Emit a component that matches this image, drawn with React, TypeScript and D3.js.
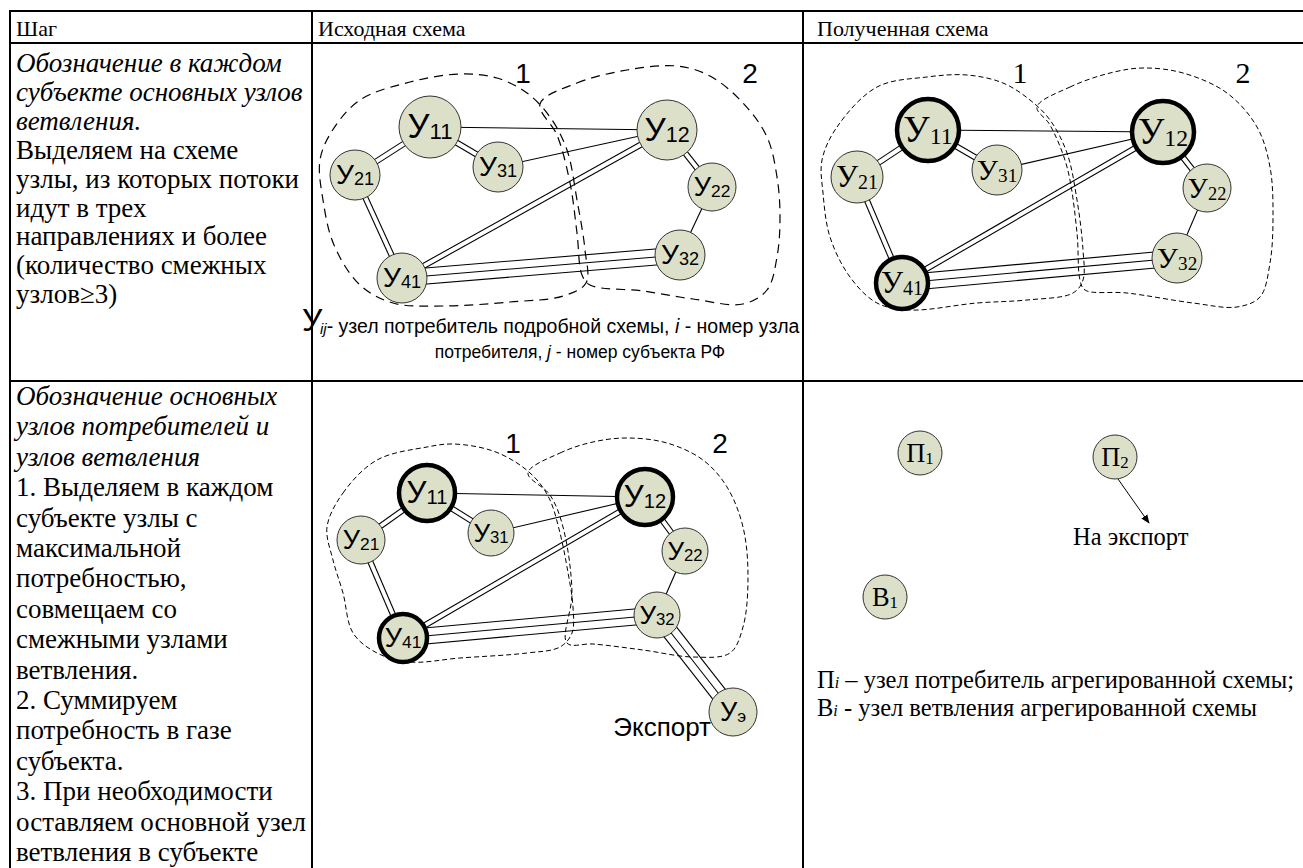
import React from 'react';
import * as d3 from 'd3';

const W = 1303;
const H = 868;

// table grid
const colX = [10, 312, 803];
const rowY = [11, 43, 381];
const headers = ['Шаг', 'Исходная схема', 'Полученная схема'];

const step1Italic = ['Обозначение в каждом', 'субъекте основных узлов', 'ветвления.'];
const step1Text = ['Выделяем на схеме', 'узлы, из которых потоки', 'идут в трех', 'направлениях и более', '(количество смежных', 'узлов≥3)'];
const step2Italic = ['Обозначение основных', 'узлов потребителей и', 'узлов ветвления'];
const step2Text = [
  '1. Выделяем в каждом', 'субъекте узлы с', 'максимальной', 'потребностью,', 'совмещаем со',
  'смежными узлами', 'ветвления.', '2. Суммируем', 'потребность в газе', 'субъекта.',
  '3. При необходимости', 'оставляем основной узел', 'ветвления в субъекте',
];

type N = { id: string; x: number; y: number; r: number; bold?: boolean };
type E = [string, string, number];
type P = [number, number];

// row 1, source scheme
const nodesA: N[] = [
  { id: '11', x: 430, y: 127, r: 31 },
  { id: '12', x: 667, y: 130, r: 30 },
  { id: '21', x: 355, y: 175, r: 25 },
  { id: '31', x: 498, y: 167, r: 25 },
  { id: '22', x: 712, y: 187, r: 24 },
  { id: '32', x: 680, y: 255, r: 25 },
  { id: '41', x: 402, y: 278, r: 25 },
];
// row 1, result scheme
const nodesB: N[] = [
  { id: '11', x: 928, y: 130, r: 31, bold: true },
  { id: '12', x: 1163, y: 132, r: 31, bold: true },
  { id: '21', x: 857, y: 177, r: 26 },
  { id: '31', x: 997, y: 170, r: 25 },
  { id: '22', x: 1207, y: 188, r: 24 },
  { id: '32', x: 1177, y: 258, r: 25 },
  { id: '41', x: 902, y: 283, r: 26, bold: true },
];
// row 2, source scheme
const nodesC: N[] = [
  { id: '11', x: 427, y: 493, r: 28, bold: true },
  { id: '12', x: 645, y: 497, r: 28, bold: true },
  { id: '21', x: 361, y: 540, r: 24 },
  { id: '31', x: 491, y: 533, r: 23 },
  { id: '22', x: 685, y: 551, r: 23 },
  { id: '32', x: 657, y: 615, r: 23 },
  { id: '41', x: 403, y: 638, r: 24, bold: true },
  { id: 'э', x: 733, y: 712, r: 24 },
];
// row 2, aggregated scheme
const nodesD: N[] = [
  { id: '1', x: 920, y: 453, r: 22 },
  { id: '2', x: 1115, y: 457, r: 22 },
  { id: '1', x: 885, y: 597, r: 22 },
];
const nodesDLetters = ['П', 'П', 'В'];

const edgesDetailed: E[] = [
  ['11', '12', 1], ['31', '12', 1], ['11', '31', 2], ['21', '11', 2], ['21', '41', 2],
  ['41', '12', 2], ['12', '22', 2], ['22', '32', 1], ['41', '32', 3],
];
const edgesExport: E[] = [...edgesDetailed, ['32', 'э', 3]];

// dashed subject outlines
const blobA1: P[] = [[320, 160], [332, 131], [360, 100], [410, 82], [460, 74], [497, 78], [527, 93], [550, 117], [567, 150], [577, 200], [585, 250], [586, 283], [563, 296], [510, 302], [443, 306], [393, 303], [360, 285], [334, 245], [323, 200]];
const blobA2: P[] = [[540, 104], [577, 83], [627, 70], [677, 66], [710, 76], [743, 103], [767, 137], [777, 177], [780, 217], [777, 257], [767, 290], [743, 304], [693, 299], [643, 291], [590, 285], [582, 275], [577, 233], [570, 183], [557, 135]];
const blobB1: P[] = [[822, 160], [837, 127], [877, 87], [927, 77], [967, 75], [1003, 83], [1030, 100], [1050, 120], [1067, 153], [1077, 200], [1083, 250], [1083, 280], [1073, 293], [1027, 300], [977, 303], [910, 310], [877, 303], [850, 277], [830, 237], [823, 193]];
const blobB2: P[] = [[1037, 107], [1070, 87], [1110, 73], [1143, 68], [1183, 73], [1227, 93], [1257, 127], [1270, 167], [1273, 217], [1270, 263], [1260, 297], [1237, 307], [1193, 303], [1127, 293], [1085, 290], [1080, 280], [1077, 233], [1067, 167], [1050, 125]];
const blobC1: P[] = [[327, 527], [343, 493], [377, 460], [427, 447], [453, 444], [490, 450], [517, 463], [537, 480], [550, 500], [560, 533], [567, 567], [573, 607], [572, 633], [560, 647], [527, 653], [460, 658], [410, 662], [377, 653], [353, 633], [343, 593], [333, 560]];
const blobC2: P[] = [[528, 473], [560, 453], [593, 442], [627, 438], [667, 443], [703, 460], [727, 487], [743, 527], [748, 577], [743, 627], [730, 653], [693, 657], [643, 650], [593, 644], [567, 643], [572, 593], [563, 527], [550, 495]];

const subjects = ['1', '2'];

const fill = '#dde0c9';
const sans = '"Liberation Sans", Arial, sans-serif';
const serif = '"Liberation Serif", "Times New Roman", serif';

const sx = d3.scaleIdentity();
const sy = d3.scaleIdentity();
const blobLine = d3.line<P>().x(d => sx(d[0])).y(d => sy(d[1])).curve(d3.curveCatmullRomClosed.alpha(0.5));

function Edges({ nodes, edges }: { nodes: N[]; edges: E[] }) {
  const byId = new Map(nodes.map(n => [n.id, n]));
  const out: JSX.Element[] = [];
  edges.forEach(([a, b, k], i) => {
    const p = byId.get(a)!;
    const q = byId.get(b)!;
    const dx = sx(q.x) - sx(p.x);
    const dy = sy(q.y) - sy(p.y);
    const len = Math.hypot(dx, dy);
    const nx = -dy / len;
    const ny = dx / len;
    const gap = k === 3 ? 8 : 5;
    for (let j = 0; j < k; j++) {
      const o = (j - (k - 1) / 2) * gap;
      out.push(
        <line key={`${i}-${j}`} x1={sx(p.x) + nx * o} y1={sy(p.y) + ny * o} x2={sx(q.x) + nx * o} y2={sy(q.y) + ny * o}
          stroke="#000" strokeWidth={1.1} />
      );
    }
  });
  return <g>{out}</g>;
}

function Nodes({ nodes, font, letters }: { nodes: N[]; font: string; letters?: string[] }) {
  const isSerif = font === serif;
  return (
    <g>
      {nodes.map((n, i) => {
        const big = isSerif ? n.r * 1.2 : n.r * 1.05 + 2;
        const small = big * 0.64;
        return (
          <g key={i}>
            <circle cx={sx(n.x)} cy={sy(n.y)} r={n.r} fill={fill} stroke={n.bold ? '#000' : '#333'} strokeWidth={n.bold ? 4.5 : 1} />
            <text x={sx(n.x)} y={sy(n.y) + big * 0.33} textAnchor="middle" fontFamily={font} fill="#000">
              <tspan fontSize={big}>{letters ? letters[i] : 'У'}</tspan>
              <tspan fontSize={small} dy={isSerif ? 2 : 1}>{n.id}</tspan>
            </text>
          </g>
        );
      })}
    </g>
  );
}

function Blobs({ blobs, dash, width }: { blobs: P[][]; dash: string; width: number }) {
  return (
    <g>
      {blobs.map((b, i) => (
        <path key={i} d={blobLine(b) || ''} fill="none" stroke="#000" strokeWidth={width} strokeDasharray={dash} />
      ))}
    </g>
  );
}

function Subjects({ pos, font, size }: { pos: P[]; font: string; size: number }) {
  return (
    <g>
      {subjects.map((s, i) => (
        <text key={s} x={pos[i][0]} y={pos[i][1]} textAnchor="middle" fontFamily={font} fontSize={size}>{s}</text>
      ))}
    </g>
  );
}

function Lines({ x, y0, italic, plain, step }: { x: number; y0: number; italic: string[]; plain: string[]; step: number }) {
  const all = [...italic.map(t => ({ t, it: true })), ...plain.map(t => ({ t, it: false }))];
  return (
    <g fontFamily={serif} fontSize={27}>
      {all.map((l, i) => (
        <text key={i} x={x} y={y0 + i * step} fontStyle={l.it ? 'italic' : 'normal'}>{l.t}</text>
      ))}
    </g>
  );
}

export default function App() {
  return (
    <svg width={W} height={H} style={{ position: 'absolute', left: 0, top: 0, display: 'block', background: '#fff' }}>
      <rect x={0} y={0} width={W} height={H} fill="#fff" />

      {/* table grid */}
      <g stroke="#000" strokeWidth={2}>
        {rowY.map(y => <line key={y} x1={colX[0] - 1} x2={W} y1={y} y2={y} />)}
        {colX.map(x => <line key={x} x1={x} x2={x} y1={rowY[0]} y2={H} />)}
      </g>
      <g fontFamily={serif} fontSize={22}>
        {headers.map((h, i) => <text key={h} x={colX[i] + (i === 2 ? 14 : 6)} y={36}>{h}</text>)}
      </g>

      <Lines x={16} y0={72} italic={step1Italic} plain={step1Text} step={28.9} />
      <Lines x={16} y0={405} italic={step2Italic} plain={step2Text} step={30.4} />

      {/* row 1: source scheme */}
      <Edges nodes={nodesA} edges={edgesDetailed} />
      <Blobs blobs={[blobA1, blobA2]} dash="9,6" width={1.2} />
      <Nodes nodes={nodesA} font={sans} />
      <Subjects pos={[[523, 83], [750, 83]]} font={sans} size={28} />
      <g fontFamily={sans} fill="#000">
        <text x={302} y={331} fontSize={32}>У</text>
        <text x={320} y={333} fontSize={19.5}>
          <tspan fontStyle="italic" fontSize={15} dy={1}>ij</tspan>
          <tspan dy={-1}>- узел потребитель подробной схемы, </tspan>
          <tspan fontStyle="italic">i</tspan>
          <tspan> - номер узла</tspan>
        </text>
        <text x={580} y={358} fontSize={17.5} textAnchor="middle">
          <tspan>потребителя, </tspan>
          <tspan fontStyle="italic">j</tspan>
          <tspan> - номер субъекта РФ</tspan>
        </text>
      </g>

      {/* row 1: result scheme */}
      <Edges nodes={nodesB} edges={edgesDetailed} />
      <Blobs blobs={[blobB1, blobB2]} dash="5,3" width={1} />
      <Nodes nodes={nodesB} font={serif} />
      <Subjects pos={[[1020, 83], [1243, 83]]} font={serif} size={30} />

      {/* row 2: source scheme */}
      <Edges nodes={nodesC} edges={edgesExport} />
      <Blobs blobs={[blobC1, blobC2]} dash="5,3" width={1} />
      <Nodes nodes={nodesC} font={sans} />
      <Subjects pos={[[513, 453], [720, 453]]} font={sans} size={28} />
      <text x={711} y={736} textAnchor="end" fontFamily={sans} fontSize={26}>Экспорт</text>

      {/* row 2: aggregated scheme */}
      <defs>
        <marker id="arr" viewBox="0 0 10 10" refX={9} refY={5} markerWidth={9} markerHeight={9} orient="auto">
          <path d="M0,1 L10,5 L0,9 z" fill="#000" />
        </marker>
      </defs>
      <line x1={1118} y1={479} x2={1149} y2={523} stroke="#000" strokeWidth={1} markerEnd="url(#arr)" />
      <Nodes nodes={nodesD} font={serif} letters={nodesDLetters} />
      <g fontFamily={serif} fontSize={24.5}>
        <text x={1073} y={545}>На экспорт</text>
        <text x={817} y={688}>П<tspan fontStyle="italic" fontSize={16}>i</tspan> – узел потребитель агрегированной схемы;</text>
        <text x={817} y={716}>В<tspan fontStyle="italic" fontSize={16}>i</tspan> - узел ветвления агрегированной схемы</text>
      </g>
    </svg>
  );
}
